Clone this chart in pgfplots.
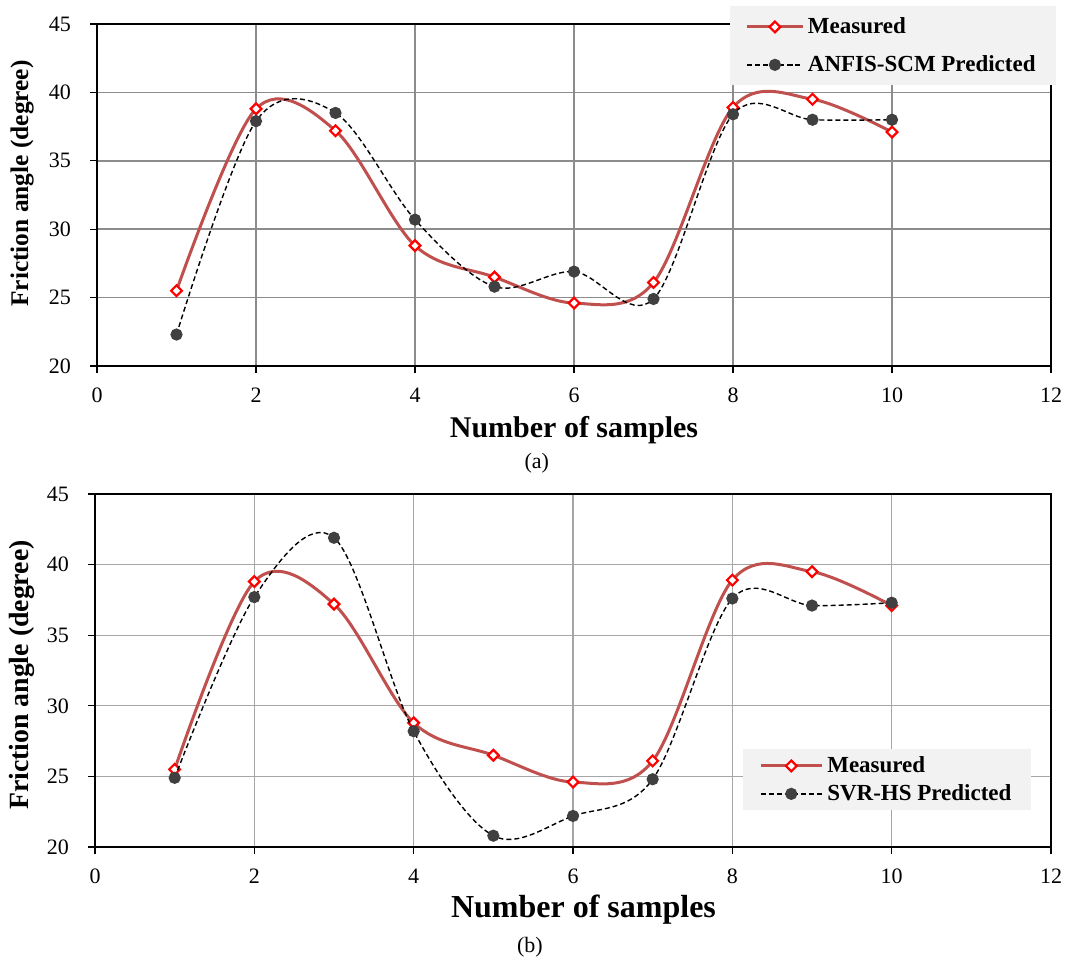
\documentclass[border=0pt]{standalone}
\usepackage{fontspec}
\setmainfont{Liberation Serif}
\usepackage{pgfplots}
\pgfplotsset{compat=1.18}
\definecolor{measred}{RGB}{192,80,77}
\definecolor{predgray}{RGB}{64,64,64}
\definecolor{legbg}{RGB}{242,242,242}

\pgfplotsset{
  friction/.style={
    scale only axis,
    clip mode=individual,
    xmin=0, xmax=12, ymin=20, ymax=45,
    xtick={0,2,...,12}, ytick={20,25,...,45},
    grid=major,
    major grid style={draw=black!45, line width=0.75pt},
    axis line style={line width=1.3pt, black},
    tick pos=left, tick align=outside,
    major tick length=3.5pt,
    tick style={black, line width=0.6pt},
    ticklabel style={font=\fontsize{11}{13}\selectfont},
    yticklabel style={xshift=-6pt},
    xticklabel style={yshift=-4pt},
    /pgf/number format/assume math mode=true,
    legend cell align=left,
  },
  measured/.style={measred, line width=1.5pt, smooth, tension=0.55,
    mark=square*, mark size=1.9pt,
    mark options={draw=red, fill=white, line width=1.1pt, solid, rotate=45}},
  predicted/.style={black, line width=0.7pt, dash pattern=on 2.5pt off 1.5pt,
    smooth, tension=0.55,
    mark=*, mark size=2.7pt,
    mark options={draw=predgray, fill=predgray, solid}},
}

\begin{document}
\begin{tikzpicture}
\useasboundingbox (0,0) rectangle (534pt,480pt);

% (a) ANFIS-SCM
\begin{axis}[friction,
    at={(48.5pt,297pt)}, anchor=south west,
    width=477pt, height=171pt,
    xlabel={\bfseries Number of samples},
    x label style={at={(axis description cs:0.5,-0.187)}, anchor=center,
      font=\fontsize{15}{17}\selectfont},
    ylabel={\bfseries Friction angle (degree)},
    y label style={at={(axis description cs:-0.0786,0.5336)}, anchor=center, rotate=0,
      font=\fontsize{12.7}{14}\selectfont},
    legend image code/.code={
      \draw[mark repeat=2, mark phase=2, #1] plot coordinates {(0pt,0pt) (13.75pt,0pt) (27.5pt,0pt)};
    },
    legend style={at={(axis description cs:1.0052,1.0526)}, anchor=north east,
      fill=legbg, draw=none, row sep=5.5pt, inner xsep=8pt, inner ysep=3.5pt,
      font=\fontsize{11.5}{13}\selectfont\bfseries},
]
\addplot[measured] coordinates {
  (1,25.5) (2,38.8) (3,37.2) (4,28.8) (5,26.5)
  (6,24.6) (7,26.1) (8,38.9) (9,39.5) (10,37.1)
};
\addlegendentry{Measured}
\addplot[predicted] coordinates {
  (1,22.3) (2,37.9) (3,38.5) (4,30.7) (5,25.8)
  (6,26.9) (7,24.9) (8,38.4) (9,38.0) (10,38.0)
};
\addlegendentry{ANFIS-SCM Predicted}
\node[font=\fontsize{11}{13}\selectfont] at (axis description cs:0.461,-0.2836) {(a)};
\end{axis}

% (b) SVR-HS
\begin{axis}[friction,
    at={(47.5pt,56.5pt)}, anchor=south west,
    width=478pt, height=176.5pt,
    major grid style={draw=black!35, line width=0.6pt},
    xlabel={\bfseries Number of samples},
    x label style={at={(axis description cs:0.511,-0.178)}, anchor=center,
      font=\fontsize{16}{18}\selectfont},
    ylabel={\bfseries Friction angle (degree)},
    y label style={at={(axis description cs:-0.0764,0.487)}, anchor=center, rotate=0,
      font=\fontsize{13.9}{15}\selectfont},
    legend image code/.code={
      \draw[mark repeat=2, mark phase=2, #1] plot coordinates {(0pt,0pt) (15.25pt,0pt) (30.5pt,0pt)};
    },
    legend style={at={(axis description cs:0.980,0.2776)}, anchor=north east,
      fill=legbg, draw=none, row sep=0.5pt, inner xsep=8pt, inner ysep=1.5pt,
      font=\fontsize{11.5}{13}\selectfont\bfseries},
]
\addplot[measured] coordinates {
  (1,25.5) (2,38.8) (3,37.2) (4,28.8) (5,26.5)
  (6,24.6) (7,26.1) (8,38.9) (9,39.5) (10,37.1)
};
\addlegendentry{Measured}
\addplot[predicted] coordinates {
  (1,24.9) (2,37.7) (3,41.9) (4,28.2) (5,20.8)
  (6,22.2) (7,24.8) (8,37.6) (9,37.1) (10,37.3)
};
\addlegendentry{SVR-HS Predicted}
\node[font=\fontsize{11}{13}\selectfont] at (axis description cs:0.455,-0.283) {(b)};
\end{axis}
\end{tikzpicture}
\end{document}
